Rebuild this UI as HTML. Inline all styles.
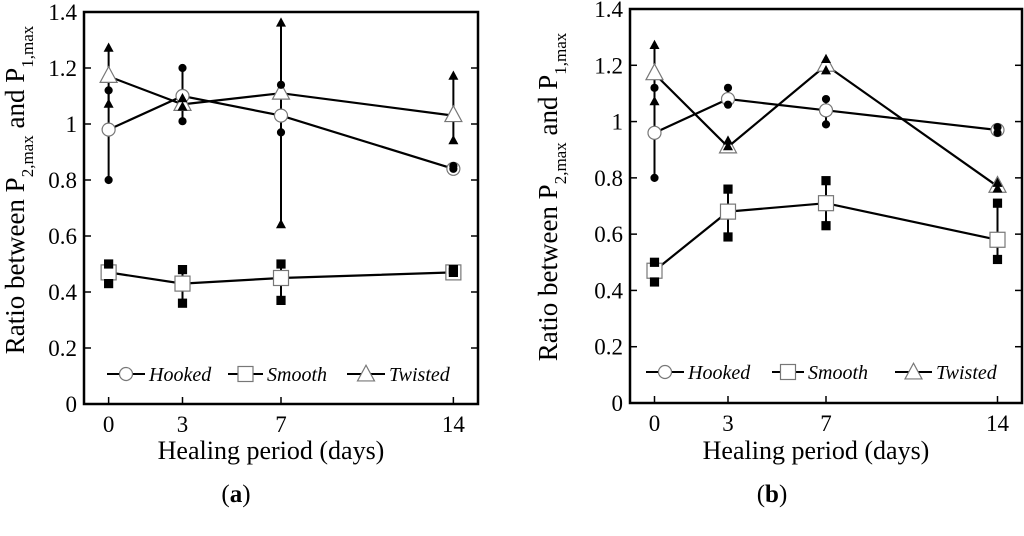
<!DOCTYPE html>
<html><head><meta charset="utf-8">
<style>
html,body{margin:0;padding:0;background:#fff;}
svg{display:block;}
svg text{font-family:"Liberation Serif","Times New Roman",serif;}
</style></head>
<body>
<svg id="fig" width="1024" height="536" viewBox="0 0 1024 536" xmlns="http://www.w3.org/2000/svg"></svg>
<script>
const days = [0, 3, 7, 14];
const yTicks = [0, 0.2, 0.4, 0.6, 0.8, 1, 1.2, 1.4];
const yTickLabels = ["0", "0.2", "0.4", "0.6", "0.8", "1", "1.2", "1.4"];
const xTickLabels = ["0", "3", "7", "14"];
// Panel (a)
const aHooked = [0.98, 1.10, 1.03, 0.84];
const aHookedLo = [0.80, 1.01, 0.97, 0.84];
const aHookedHi = [1.12, 1.20, 1.14, 0.85];
const aSmooth = [0.47, 0.43, 0.45, 0.47];
const aSmoothLo = [0.43, 0.36, 0.37, 0.47];
const aSmoothHi = [0.50, 0.48, 0.50, 0.48];
const aTwisted = [1.17, 1.07, 1.11, 1.03];
const aTwistedLo = [1.07, 1.06, 0.64, 0.94];
const aTwistedHi = [1.27, 1.09, 1.36, 1.17];
// Panel (b)
const bHooked = [0.96, 1.08, 1.04, 0.97];
const bHookedLo = [0.80, 1.06, 0.99, 0.96];
const bHookedHi = [1.12, 1.12, 1.08, 0.98];
const bSmooth = [0.47, 0.68, 0.71, 0.58];
const bSmoothLo = [0.43, 0.59, 0.63, 0.51];
const bSmoothHi = [0.50, 0.76, 0.79, 0.71];
const bTwisted = [1.17, 0.91, 1.20, 0.77];
const bTwistedLo = [1.07, 0.91, 1.18, 0.76];
const bTwistedHi = [1.27, 0.93, 1.22, 0.78];

const NS = "http://www.w3.org/2000/svg";
const FONT = '"Liberation Serif", serif';
const svg = document.getElementById("fig");
function mk(tag, attrs, parent, text) {
  const e = document.createElementNS(NS, tag);
  for (const k in attrs) e.setAttribute(k, attrs[k]);
  if (tag === "text") e.setAttribute("font-family", FONT);
  if (text !== undefined) e.textContent = text;
  (parent || svg).appendChild(e);
  return e;
}
function marker(g, kind, x, y, size, fill, stroke) {
  let m;
  if (kind === "circle") m = mk("circle", {cx: x, cy: y, r: size, fill: fill, stroke: stroke, "stroke-width": 1.2}, g);
  else if (kind === "square") m = mk("rect", {x: x - size, y: y - size, width: 2 * size, height: 2 * size, fill: fill, stroke: stroke, "stroke-width": 1.2}, g);
  else m = mk("polygon", {points: `${x},${y - size * 1.15} ${x - size},${y + size * 0.7} ${x + size},${y + size * 0.7}`, fill: fill, stroke: stroke, "stroke-width": 1.2}, g);
  return m;
}

function panel(p) {
  const g = mk("g", {});
  
  
  const X = v => p.left + (v + 1) / 16 * (p.right - p.left);
  const Y = v => p.bottom - v / 1.4 * (p.bottom - p.top);
  yTicks.forEach((t, i) => {
    const y = Y(t);
    mk("line", {x1: p.left, x2: p.left + 7, y1: y, y2: y, stroke: "#000", "stroke-width": 1.5}, g);
    mk("line", {x1: p.right, x2: p.right - 7, y1: y, y2: y, stroke: "#000", "stroke-width": 1.5}, g);
    const tl = mk("text", {x: p.left - 7, y: y + 8, "text-anchor": "end", "font-size": 23}, g, yTickLabels[i]);
    
    
  });
  days.forEach((d, i) => {
    const x = X(d);
    mk("line", {x1: x, x2: x, y1: p.bottom, y2: p.bottom - 7, stroke: "#000", "stroke-width": 1.5}, g);
    const tl = mk("text", {x: x, y: p.bottom + 28, "text-anchor": "middle", "font-size": 23}, g, xTickLabels[i]);
    
    
  });
  const series = [
    {name: "hooked", kind: "circle", v: p.hooked, lo: p.hookedLo, hi: p.hookedHi, size: 6.5, cap: 3.5},
    {name: "smooth", kind: "square", v: p.smooth, lo: p.smoothLo, hi: p.smoothHi, size: 7.5, cap: 4},
    {name: "twisted", kind: "triangle", v: p.twisted, lo: p.twistedLo, hi: p.twistedHi, size: 8.5, cap: 4}
  ];
  series.forEach(s => {
    const sg = mk("g", {}, g);
    
    
    days.forEach((d, i) => {
      const x = X(d);
      mk("line", {x1: x, x2: x, y1: Y(s.lo[i]), y2: Y(s.hi[i]), stroke: "#000", "stroke-width": 2}, sg);
    });
    const pts = days.map((d, i) => X(d) + "," + Y(s.v[i])).join(" ");
    const line = mk("polyline", {points: pts, fill: "none", stroke: "#000", "stroke-width": 2.2}, sg);
    
    
  });
  series.forEach(s => {
    days.forEach((d, i) => {
      const m = marker(g, s.kind, X(d), Y(s.v[i]), s.size, "#fff", "#777");
      
      
    });
  });
  series.forEach(s => {
    days.forEach((d, i) => {
      [s.lo[i], s.hi[i]].forEach(e => marker(g, s.kind, X(d), Y(e), s.cap, "#000", "#000"));
    });
  });
  const fr = mk("rect", {x: p.left, y: p.top, width: p.right - p.left, height: p.bottom - p.top, fill: "none", stroke: "#000", "stroke-width": 2.5}, g);
  
  
  const lg = mk("g", {}, g);
  
  
  p.legend.forEach((L, i) => {
    const eg = mk("g", {}, lg);
    
    
    mk("line", {x1: L.x1, x2: L.x2, y1: p.legY, y2: p.legY, stroke: "#000", "stroke-width": 2}, eg);
    marker(eg, L.kind, (L.x1 + L.x2) / 2, p.legY + (L.kind === "triangle" ? 1 : 0), L.kind === "square" ? 7.5 : (L.kind === "circle" ? 6.5 : 8.5), "#fff", "#777");
    mk("text", {x: L.x2 + 4, y: p.legY + 7, "font-size": 20, "font-style": "italic"}, eg, L.label);
  });
  const yt = mk("text", {x: 0, y: 0, "font-size": 27, "text-anchor": "middle", transform: `translate(${p.ytx},${p.yty}) rotate(-90)`}, g);
  
  
  yt.innerHTML = 'Ratio between P<tspan font-size="17" dy="9">2,max</tspan><tspan dy="-9"> and P</tspan><tspan font-size="17" dy="9">1,max</tspan>';
  const xt = mk("text", {x: (p.left + p.right) / 2 -10, y: 459, "font-size": 26, "text-anchor": "middle"}, g, "Healing period (days)");
  
  
  const cap = mk("text", {x: p.capX, y: 502, "font-size": 25, "text-anchor": "middle"}, g);
  
  
  cap.innerHTML = '(<tspan font-weight="bold">' + p.letter + '</tspan>)';
}

panel({name: "panel-a", left: 84, right: 478, top: 12, bottom: 404,
  hooked: aHooked, hookedLo: aHookedLo, hookedHi: aHookedHi,
  smooth: aSmooth, smoothLo: aSmoothLo, smoothHi: aSmoothHi,
  twisted: aTwisted, twistedLo: aTwistedLo, twistedHi: aTwistedHi,
  legY: 374, legend: [
    {kind: "circle", x1: 107, x2: 145, label: "Hooked"},
    {kind: "square", x1: 228, x2: 263, label: "Smooth"},
    {kind: "triangle", x1: 347, x2: 385, label: "Twisted"}],
  ytx: 24, yty: 190, capX: 236, letter: "a"});
panel({name: "panel-b", left: 630, right: 1022, top: 9, bottom: 403,
  hooked: bHooked, hookedLo: bHookedLo, hookedHi: bHookedHi,
  smooth: bSmooth, smoothLo: bSmoothLo, smoothHi: bSmoothHi,
  twisted: bTwisted, twistedLo: bTwistedLo, twistedHi: bTwistedHi,
  legY: 372, legend: [
    {kind: "circle", x1: 646, x2: 684, label: "Hooked"},
    {kind: "square", x1: 772, x2: 804, label: "Smooth"},
    {kind: "triangle", x1: 895, x2: 932, label: "Twisted"}],
  ytx: 557, yty: 197, capX: 772, letter: "b"});
</script>
</body></html>
